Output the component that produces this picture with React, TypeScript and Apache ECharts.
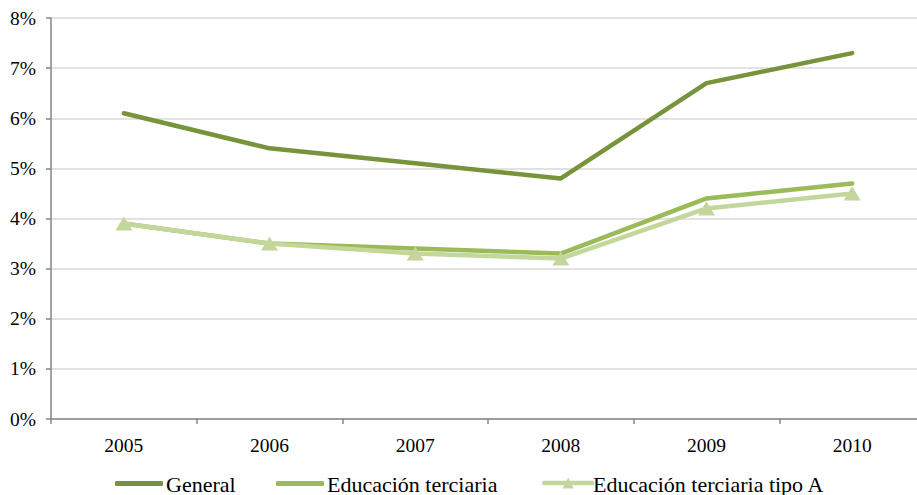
import React, { useEffect, useRef } from "react";
import * as echarts from "echarts";

const years = ["2005", "2006", "2007", "2008", "2009", "2010"];
const general = [6.1, 5.4, 5.1, 4.8, 6.7, 7.3];
const terciaria = [3.9, 3.5, 3.4, 3.3, 4.4, 4.7];
const terciariaA = [3.9, 3.5, 3.3, 3.2, 4.2, 4.5];
const seriesNames = ["General", "Educación terciaria", "Educación terciaria tipo A"];
const colors = ["#77933c", "#9bbb59", "#c3d69b"];

const FONT = "Liberation Serif";
const legendLeft = [115, 276, 542];

export default function App() {
  const ref = useRef<HTMLDivElement>(null);
  useEffect(() => {
    if (!ref.current) return;
    const chart = echarts.init(ref.current, undefined, { renderer: "svg" });
    const legendBase = {
      padding: 0,
      itemWidth: 48,
      formatter: () => "",
      textStyle: { fontSize: 1 },
    };
    chart.setOption({
      animation: false,
      backgroundColor: "#ffffff",
      textStyle: { fontFamily: FONT },
      grid: { left: 51, right: 0, top: 18, bottom: 76 },
      legend: [
        { ...legendBase, left: legendLeft[0], top: 481, itemHeight: 5, icon: "roundRect", data: [seriesNames[0]] },
        { ...legendBase, left: legendLeft[1], top: 481, itemHeight: 5, icon: "roundRect", data: [seriesNames[1]] },
        { ...legendBase, left: legendLeft[2], top: 476, itemHeight: 14, lineStyle: { width: 4.5 }, data: [seriesNames[2]] },
      ],
      graphic: seriesNames.map((name, i) => ({
        type: "text",
        x: legendLeft[i] + 51,
        y: 484,
        silent: true,
        style: {
          text: name,
          font: "normal 22px 'Liberation Serif', serif",
          fill: "#000",
          verticalAlign: "middle",
          align: "left",
        },
      })),
      xAxis: {
        type: "category",
        data: years,
        boundaryGap: true,
        axisLine: { lineStyle: { color: "#868686", width: 1.5 } },
        axisTick: { show: true, length: 5, lineStyle: { color: "#868686", width: 1.5 } },
        axisLabel: { color: "#000", fontFamily: FONT, fontSize: 19.5, margin: 16 },
        splitLine: { show: false },
      },
      yAxis: {
        type: "value",
        min: 0,
        max: 8,
        interval: 1,
        axisLine: { show: true, lineStyle: { color: "#868686", width: 1.5 } },
        axisTick: { show: true, length: 5, lineStyle: { color: "#868686", width: 1.5 } },
        axisLabel: { color: "#000", fontFamily: FONT, fontSize: 19.5, margin: 15, formatter: "{value}%" },
        splitLine: { show: true, lineStyle: { color: "#d9d9d9", width: 1.5 } },
      },
      series: [
        {
          name: seriesNames[0],
          type: "line",
          data: general,
          symbol: "none",
          lineStyle: { color: colors[0], width: 4.5, cap: "round", join: "round" },
          itemStyle: { color: colors[0] },
        },
        {
          name: seriesNames[1],
          type: "line",
          data: terciaria,
          symbol: "none",
          lineStyle: { color: colors[1], width: 4.5, cap: "round", join: "round" },
          itemStyle: { color: colors[1] },
        },
        {
          name: seriesNames[2],
          type: "line",
          data: terciariaA,
          symbol: "triangle",
          symbolSize: [17, 14],
          lineStyle: { color: colors[2], width: 4.5, cap: "round", join: "round" },
          itemStyle: { color: colors[2] },
        },
      ],
    });
    return () => chart.dispose();
  }, []);
  return (
    <div style={{ position: "fixed", left: 0, top: 0, width: 917, height: 495, overflow: "hidden", background: "#fff" }}>
      <div ref={ref} style={{ width: 925, height: 495 }} />
    </div>
  );
}
